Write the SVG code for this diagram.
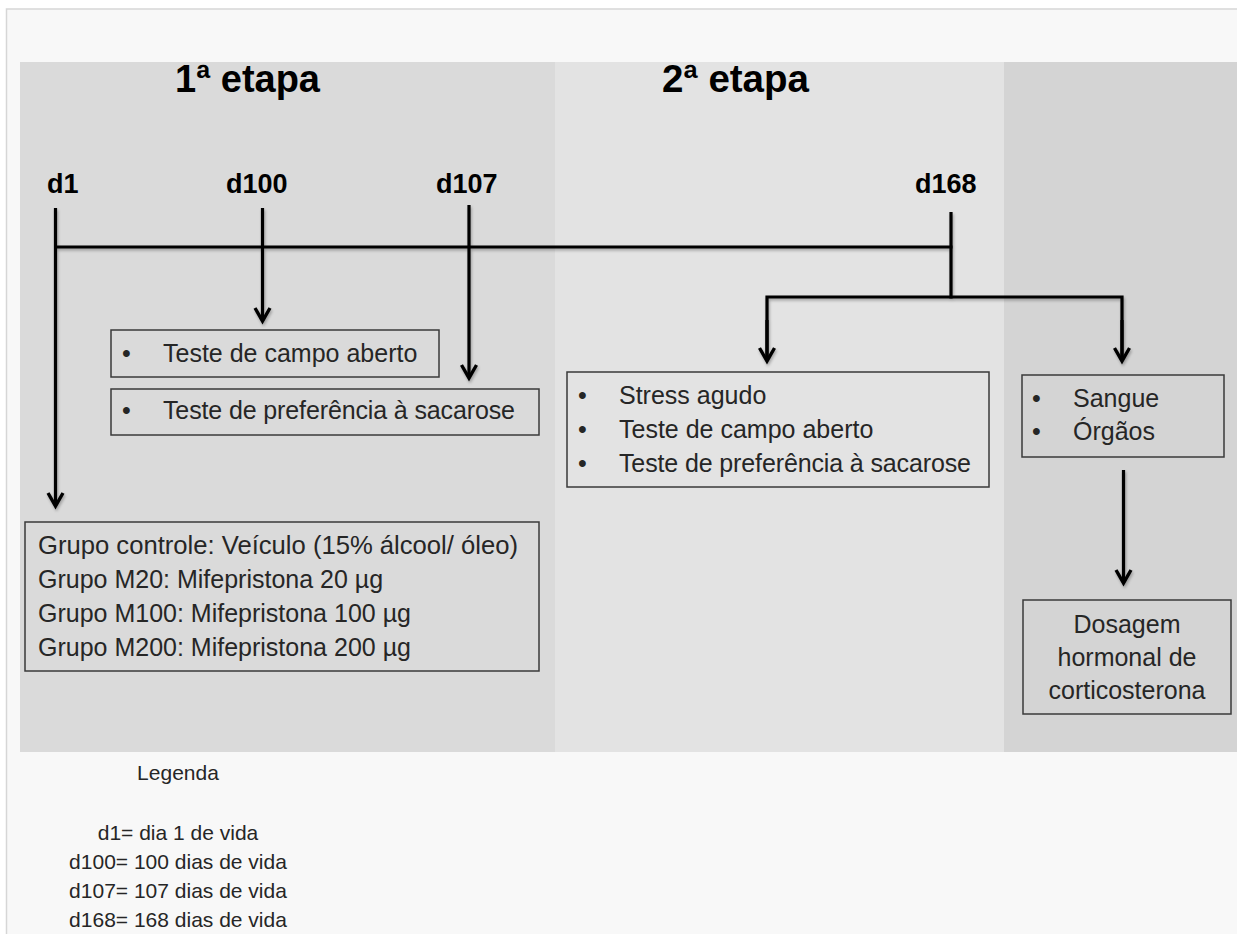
<svg xmlns="http://www.w3.org/2000/svg" width="1237" height="934" viewBox="0 0 1237 934">
  <style>
    .txt { font-family: "Liberation Sans", Arial, sans-serif; font-size: 25px; fill: #262626; }
    .hd { font-family: "Liberation Sans", Arial, sans-serif; font-size: 38px; font-weight: bold; fill: #000; }
    .day { font-family: "Liberation Sans", Arial, sans-serif; font-size: 27px; font-weight: bold; fill: #000; }
    .leg { font-family: "Liberation Sans", Arial, sans-serif; font-size: 21px; fill: #262626; text-anchor: middle; }
    .box { stroke: #3a3a3a; stroke-width: 1.5; }
    .ln { stroke: #000; stroke-width: 3.2; fill: none; }
    .arr { stroke: #000; stroke-width: 3.2; fill: none; marker-end: url(#chev); }
  </style>
  <defs>
    <marker id="chev" markerUnits="userSpaceOnUse" viewBox="-16 -10 20 20" markerWidth="20" markerHeight="20" refX="0" refY="0" orient="auto" overflow="visible">
      <path d="M-13,-7.5 L0,0 L-13,7.5" fill="none" stroke="#000" stroke-width="3.4" stroke-linejoin="miter"/>
    </marker>
    <filter id="sh" x="-5%" y="-5%" width="110%" height="115%">
      <feGaussianBlur in="SourceAlpha" stdDeviation="1.5"/>
      <feOffset dx="1" dy="2" result="b"/>
      <feComponentTransfer><feFuncA type="linear" slope="0.3"/></feComponentTransfer>
      <feMerge><feMergeNode/><feMergeNode in="SourceGraphic"/></feMerge>
    </filter>
  </defs>

  <!-- page -->
  <rect x="0" y="0" width="1237" height="934" fill="#ffffff"/>
  <rect x="6.5" y="9" width="1240" height="940" fill="#f8f8f8" stroke="#d6d6d6" stroke-width="1.5"/>

  <!-- stage panels -->
  <g id="panels">
    <rect x="20" y="62" width="536" height="690" fill="#dadada"/>
    <rect x="555" y="62" width="450" height="690" fill="#e3e3e3"/>
    <rect x="1004" y="62" width="233" height="690" fill="#d4d4d4"/>
  </g>

  <g id="titles">
    <text class="hd" x="175" y="92" textLength="145" lengthAdjust="spacingAndGlyphs">1ª etapa</text>
    <text class="hd" x="662" y="92" textLength="147" lengthAdjust="spacingAndGlyphs">2ª etapa</text>
  </g>

  <g id="day-labels">
    <text class="day" x="47" y="193">d1</text>
    <text class="day" x="226" y="193">d100</text>
    <text class="day" x="436" y="193">d107</text>
    <text class="day" x="915" y="193">d168</text>
  </g>

  <!-- connectors -->
  <g id="connectors" filter="url(#sh)">
    <line class="ln" x1="54" y1="247" x2="952.5" y2="247"/>
    <line class="arr" x1="55.5" y1="208" x2="55.5" y2="506"/>
    <line class="arr" x1="262.5" y1="208" x2="262.5" y2="321"/>
    <line class="arr" x1="469" y1="205" x2="469" y2="378"/>
    <line class="ln" x1="951" y1="212" x2="951" y2="298.5"/>
    <path class="ln" d="M767,361 L767,297 L1122,297 L1122,361" stroke-linejoin="miter"/>
    <line class="arr" x1="767" y1="320" x2="767" y2="361"/>
    <line class="arr" x1="1122" y1="320" x2="1122" y2="361"/>
    <line class="arr" x1="1123.5" y1="470" x2="1123.5" y2="583"/>
  </g>

  <!-- nodes -->
  <g id="node-campo">
    <rect class="box" x="111" y="330" width="328" height="47" fill="#dadada"/>
    <text class="txt" x="122" y="362">•</text>
    <text class="txt" x="163" y="362">Teste  de campo aberto</text>
  </g>

  <g id="node-preferencia">
    <rect class="box" x="111" y="389" width="428" height="46" fill="#dadada"/>
    <text class="txt" x="122" y="419">•</text>
    <text class="txt" x="163" y="419" textLength="352" lengthAdjust="spacing">Teste  de preferência  à sacarose</text>
  </g>

  <g id="node-grupos">
    <rect class="box" x="25" y="522" width="514" height="149" fill="#dadada"/>
    <text class="txt" x="38" y="554" textLength="480" lengthAdjust="spacingAndGlyphs">Grupo controle: Veículo (15% álcool/ óleo)</text>
    <text class="txt" x="38" y="588">Grupo M20: Mifepristona  20 µg</text>
    <text class="txt" x="38" y="622">Grupo M100: Mifepristona  100 µg</text>
    <text class="txt" x="38" y="656">Grupo M200: Mifepristona  200 µg</text>
  </g>

  <g id="node-etapa2">
    <rect class="box" x="567" y="372" width="422" height="115" fill="#e3e3e3"/>
    <text class="txt" x="578" y="404">•</text>
    <text class="txt" x="619" y="404">Stress agudo</text>
    <text class="txt" x="578" y="438">•</text>
    <text class="txt" x="619" y="438">Teste  de campo aberto</text>
    <text class="txt" x="578" y="472">•</text>
    <text class="txt" x="619" y="472" textLength="352" lengthAdjust="spacing">Teste  de preferência  à sacarose</text>
  </g>

  <g id="node-coleta">
    <rect class="box" x="1022" y="375" width="202" height="82" fill="#d4d4d4"/>
    <text class="txt" x="1032" y="407">•</text>
    <text class="txt" x="1073" y="407">Sangue</text>
    <text class="txt" x="1032" y="440">•</text>
    <text class="txt" x="1073" y="440">Órgãos</text>
  </g>

  <g id="node-dosagem">
    <rect class="box" x="1023" y="600" width="208" height="114" fill="#d4d4d4"/>
    <text class="txt" x="1127" y="633" text-anchor="middle">Dosagem</text>
    <text class="txt" x="1127" y="666" text-anchor="middle">hormonal de</text>
    <text class="txt" x="1127" y="699" text-anchor="middle">corticosterona</text>
  </g>

  <g id="legend">
    <text class="leg" x="178" y="780">Legenda</text>
    <text class="leg" x="178" y="840">d1= dia 1 de vida</text>
    <text class="leg" x="178" y="869">d100= 100 dias de vida</text>
    <text class="leg" x="178" y="898">d107= 107 dias de vida</text>
    <text class="leg" x="178" y="927">d168= 168 dias de vida</text>
  </g>
</svg>
